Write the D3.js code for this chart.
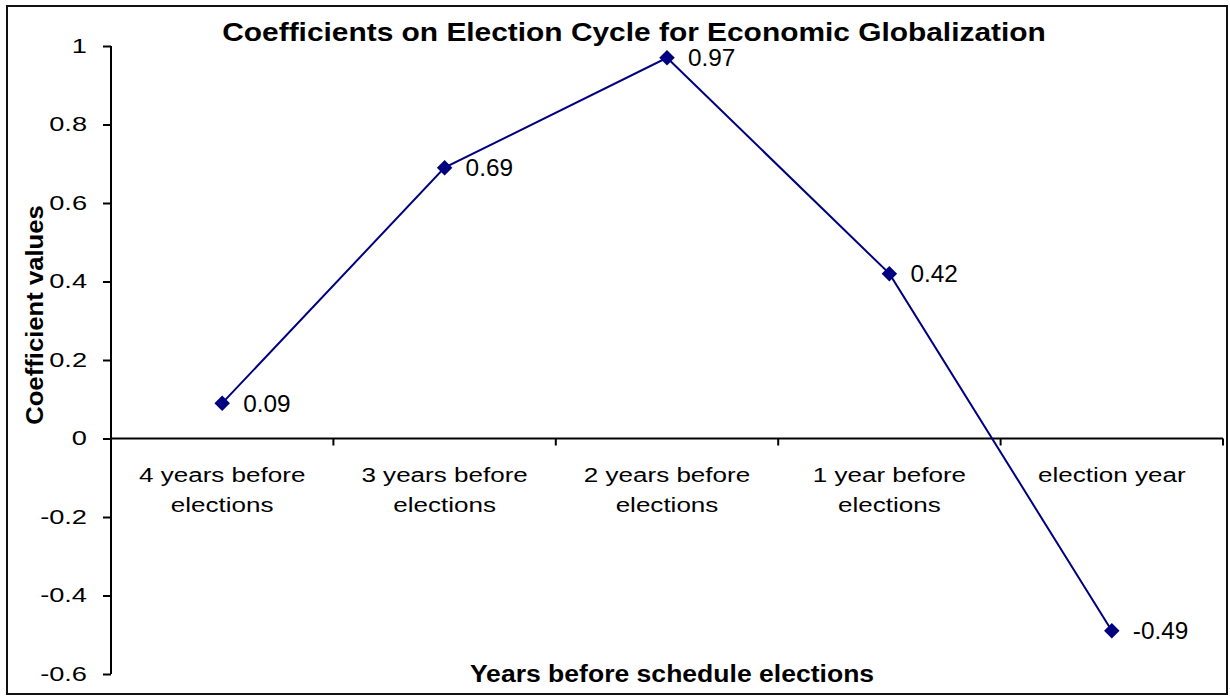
<!DOCTYPE html>
<html>
<head>
<meta charset="utf-8">
<script src="https://cdn.jsdelivr.net/npm/d3@7"></script>
<style>
  body { margin: 0; background: #fff; }
  text { font-family: "Liberation Sans", Arial, sans-serif; fill: #000; }
</style>
</head>
<body>
<svg id="chart" width="1230" height="698"></svg>
<script>
// data
let categories = [["4 years before", "elections"], ["3 years before", "elections"],
                  ["2 years before", "elections"], ["1 year before", "elections"], ["election year"]];
let values = [0.09, 0.69, 0.97, 0.42, -0.49];
let yTicks = [1, 0.8, 0.6, 0.4, 0.2, 0, -0.2, -0.4, -0.6];

let svg = d3.select("#chart");
let plotL = 111, plotR = 1223, plotT = 46, plotB = 674;

// outer border
svg.append("rect").attr("x", 7).attr("y", 6).attr("width", 1220).attr("height", 688)
    .attr("fill", "none").attr("stroke", "#111").attr("stroke-width", 2);

let x = d3.scaleBand().domain(d3.range(values.length)).range([plotL, plotR]);
let y = d3.scaleLinear().domain([-0.6, 1]).range([plotB, plotT]);

// y axis (labels look stretched sideways in the original, so scale them)
let yAxis = d3.axisLeft(y).tickValues(yTicks).tickSize(8)
    .tickFormat(d => d < 0 ? "-" + Math.abs(d) : String(d));
let gy = svg.append("g").attr("transform", "translate(" + plotL + ",0)").call(yAxis);
gy.select(".domain").attr("stroke", "#000").attr("stroke-width", 2).attr("d", "M0," + plotT + "V" + plotB);
gy.selectAll(".tick line").attr("stroke", "#000").attr("stroke-width", 2);
gy.selectAll(".tick text").attr("font-size", 20).attr("font-family", "Liberation Sans, Arial, sans-serif")
    .attr("fill", "#000").attr("x", 0).attr("transform", "translate(-24,0) scale(1.36,1)");

// x axis at zero
let zero = y(0);
svg.append("line").attr("x1", plotL).attr("x2", plotR).attr("y1", zero).attr("y2", zero)
    .attr("stroke", "#000").attr("stroke-width", 2);
let bounds = d3.range(values.length + 1).map(i => i < values.length ? x(i) : plotR);
svg.selectAll(".xtick").data(bounds.slice(1)).enter().append("line")
    .attr("x1", d => d).attr("x2", d => d).attr("y1", zero).attr("y2", zero + 7)
    .attr("stroke", "#000").attr("stroke-width", 2);

// category labels
let cx = i => x(i) + x.bandwidth() / 2;
categories.forEach((lines, i) => {
    let t = svg.append("text").attr("text-anchor", "middle").attr("font-size", 21)
        .attr("transform", "translate(" + cx(i) + ",482) scale(1.24,1)");
    lines.forEach((s, j) => {
        t.append("tspan").attr("x", 0).attr("y", j * 30).text(s);
    });
});

// line + markers
let line = d3.line().x((d, i) => cx(i)).y(d => y(d));
svg.append("path").datum(values).attr("d", line).attr("fill", "none")
    .attr("stroke", "#000080").attr("stroke-width", 2);

svg.selectAll(".pt").data(values).enter().append("path")
    .attr("d", d3.symbol().type(d3.symbolSquare).size(120))
    .attr("transform", (d, i) => "translate(" + cx(i) + "," + y(d) + ") rotate(45)")
    .attr("fill", "#000080");

svg.selectAll(".lbl").data(values).enter().append("text")
    .attr("transform", (d, i) => "translate(" + (cx(i) + 21) + "," + (y(d) + 8.5) + ") scale(1.06,1)")
    .attr("font-size", 23).text(d => d.toFixed(2));

// titles
svg.append("text").attr("transform", "translate(634,41) scale(1.15,1)").attr("text-anchor", "middle")
    .attr("font-size", 26).attr("font-weight", "bold")
    .text("Coefficients on Election Cycle for Economic Globalization");
svg.append("text").attr("transform", "translate(672,682) scale(1.13,1)").attr("text-anchor", "middle")
    .attr("font-size", 23.5).attr("font-weight", "bold")
    .text("Years before schedule elections");
svg.append("text").attr("transform", "translate(43,315) rotate(-90) scale(1.07,1)").attr("text-anchor", "middle")
    .attr("font-size", 24).attr("font-weight", "bold")
    .text("Coefficient values");
</script>
</body>
</html>
